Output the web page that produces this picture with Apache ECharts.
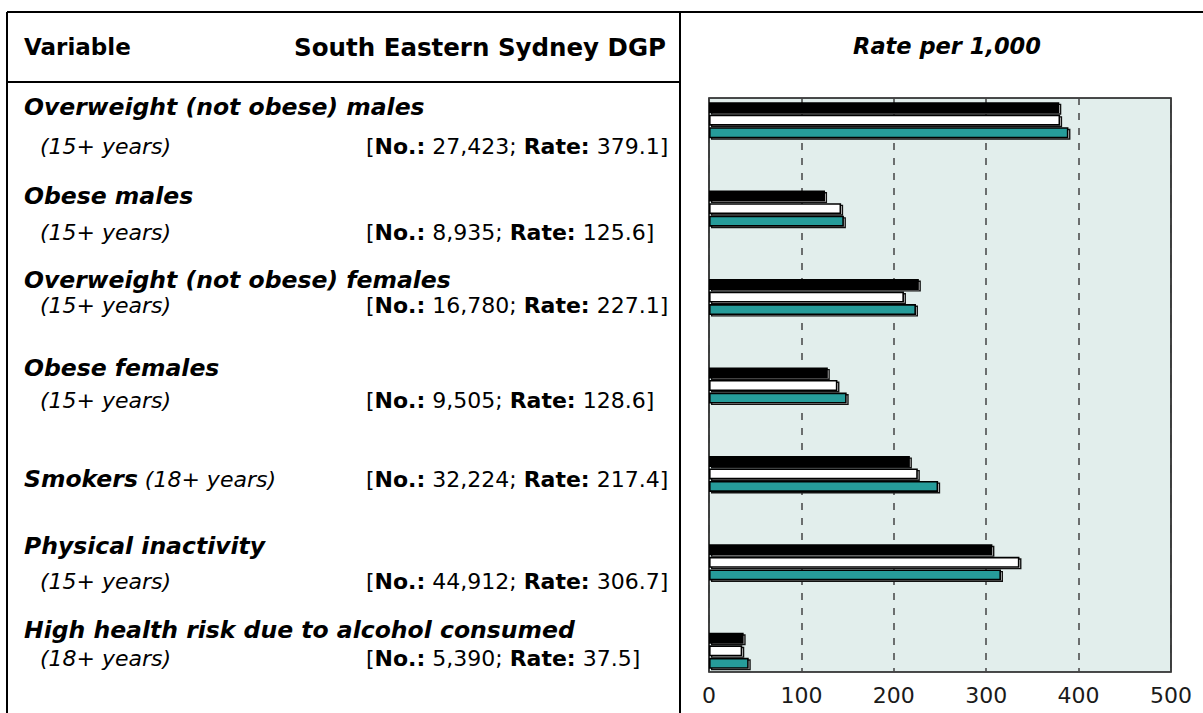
<!DOCTYPE html>
<html>
<head>
<meta charset="utf-8">
<script src="https://cdn.jsdelivr.net/npm/echarts@6/dist/echarts.min.js"></script>
<style>
html,body{margin:0;padding:0;background:#fff;}
#chart{width:1203px;height:713px;}
</style>
</head>
<body>
<div id="chart"></div>
<script>
// ---- data ----
const categories = [
  'Overweight (not obese) males',
  'Obese males',
  'Overweight (not obese) females',
  'Obese females',
  'Smokers',
  'Physical inactivity',
  'High health risk due to alcohol consumed'
];
const ageGroups = ['(15+ years)', '(15+ years)', '(15+ years)', '(15+ years)', '(18+ years)', '(15+ years)', '(18+ years)'];
const counts = ['27,423', '8,935', '16,780', '9,505', '32,224', '44,912', '5,390'];
const rates = [379.1, 125.6, 227.1, 128.6, 217.4, 306.7, 37.5];          // South Eastern Sydney DGP (black)
const comparisonWhite = [380, 143, 211, 139, 226, 336, 36];
const comparisonTeal = [389, 146, 224, 149, 248, 316, 43];
const xTicks = [0, 100, 200, 300, 400, 500];

// ---- layout (text rows of the table) ----
const titleY = [107, 196, 280, 368, 479, 546, 630];
const subY = [146, 232, 305, 400, 479, 581, 658];

const FONT = 'DejaVu Sans';
const chart = echarts.init(document.getElementById('chart'), null, {renderer: 'svg'});

const graphics = [];
// table lines
const line = (x1, y1, x2, y2) => ({type: 'line', shape: {x1, y1, x2, y2}, style: {stroke: '#000', lineWidth: 2}, z: 10});
graphics.push(line(7, 12, 1203, 12));
graphics.push(line(7, 12, 7, 713));
graphics.push(line(680, 12, 680, 713));
graphics.push(line(7, 82, 680, 82));
// header texts
graphics.push({type: 'text', x: 24, y: 47, style: {text: 'Variable', fontFamily: FONT, fontWeight: 'bold', fontSize: 23, fill: '#000', align: 'left', verticalAlign: 'middle'}});
graphics.push({type: 'text', x: 666, y: 47, style: {text: 'South Eastern Sydney DGP', fontFamily: FONT, fontWeight: 'bold', fontSize: 24.5, fill: '#000', align: 'right', verticalAlign: 'middle'}});
graphics.push({type: 'text', x: 947, y: 46, style: {text: 'Rate per 1,000', fontFamily: FONT, fontWeight: 'bold', fontStyle: 'italic', fontSize: 22.5, fill: '#000', align: 'center', verticalAlign: 'middle'}});

const rich = {
  t: {fontFamily: FONT, fontWeight: 'bold', fontStyle: 'italic', fontSize: 23.5, fill: '#000'},
  s: {fontFamily: FONT, fontWeight: 'normal', fontStyle: 'italic', fontSize: 22, fill: '#000'},
  b: {fontFamily: FONT, fontWeight: 'bold', fontStyle: 'normal', fontSize: 22, fill: '#000'},
  r: {fontFamily: FONT, fontWeight: 'normal', fontStyle: 'normal', fontSize: 22, fill: '#000'}
};
categories.forEach((c, i) => {
  if (i === 4) {
    graphics.push({type: 'text', x: 24, y: titleY[i], style: {text: '{t|' + c + '}{s| ' + ageGroups[i] + '}', rich, verticalAlign: 'middle', align: 'left'}});
  } else {
    graphics.push({type: 'text', x: 24, y: titleY[i], style: {text: c, fontFamily: FONT, fontWeight: 'bold', fontStyle: 'italic', fontSize: 23.5, fill: '#000', align: 'left', verticalAlign: 'middle'}});
    graphics.push({type: 'text', x: 40, y: subY[i], style: {text: ageGroups[i], fontFamily: FONT, fontStyle: 'italic', fontSize: 22, fill: '#000', align: 'left', verticalAlign: 'middle'}});
  }
  graphics.push({type: 'text', x: 366, y: subY[i], style: {text: '{r|[}{b|No.:}{r| ' + counts[i] + '; }{b|Rate:}{r| ' + rates[i].toFixed(1) + ']}', rich, align: 'left', verticalAlign: 'middle'}});
});

const barStyle = (fill) => ({color: fill, borderColor: '#000', borderWidth: 1.6});
const shadowStyle = {color: '#ffffff', borderColor: '#111', borderWidth: 1.4};
const barCommon = {type: 'bar', barWidth: 11, barGap: '14%', silent: true};

chart.setOption({
  animation: false,
  grid: [
    {left: 709, top: 98, width: 462, height: 574, show: true, backgroundColor: '#e2eeec', borderColor: '#111', borderWidth: 1.6},
    {left: 709, top: 76, width: 462, height: 619},
    {left: 711, top: 77.5, width: 462, height: 619}
  ],
  xAxis: [
    {gridIndex: 0, type: 'value', min: xTicks[0], max: xTicks[xTicks.length - 1], interval: 100,
     axisLine: {show: false}, axisTick: {show: false},
     splitLine: {show: true, lineStyle: {color: '#444', type: [7, 8], width: 1.5}},
     axisLabel: {fontFamily: FONT, fontSize: 22, color: '#1a1a1a', margin: 12}},
    {gridIndex: 1, type: 'value', min: xTicks[0], max: xTicks[xTicks.length - 1], show: false},
    {gridIndex: 2, type: 'value', min: xTicks[0], max: xTicks[xTicks.length - 1], show: false}
  ],
  yAxis: [
    {gridIndex: 0, type: 'category', data: categories, show: false},
    {gridIndex: 1, type: 'category', data: categories, inverse: true, show: false},
    {gridIndex: 2, type: 'category', data: categories, inverse: true, show: false}
  ],
  series: [
    // offset "shadow" frames behind each bar
    Object.assign({name: 'frame-a', xAxisIndex: 2, yAxisIndex: 2, data: rates, itemStyle: shadowStyle, z: 1}, barCommon),
    Object.assign({name: 'frame-b', xAxisIndex: 2, yAxisIndex: 2, data: comparisonWhite, itemStyle: shadowStyle, z: 1}, barCommon),
    Object.assign({name: 'frame-c', xAxisIndex: 2, yAxisIndex: 2, data: comparisonTeal, itemStyle: shadowStyle, z: 1}, barCommon),
    // main bars
    Object.assign({name: 'South Eastern Sydney DGP', xAxisIndex: 1, yAxisIndex: 1, data: rates, itemStyle: barStyle('#000000'), z: 3}, barCommon),
    Object.assign({name: 'Comparison 1', xAxisIndex: 1, yAxisIndex: 1, data: comparisonWhite, itemStyle: barStyle('#ffffff'), z: 3}, barCommon),
    Object.assign({name: 'Comparison 2', xAxisIndex: 1, yAxisIndex: 1, data: comparisonTeal, itemStyle: barStyle('#269c9a'), z: 3}, barCommon)
  ],
  graphic: graphics
});
</script>
</body>
</html>
